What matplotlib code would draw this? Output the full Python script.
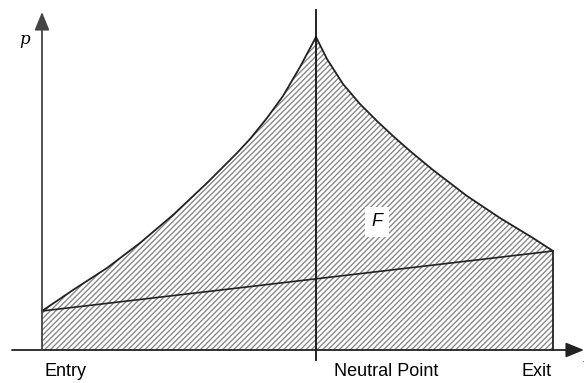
import numpy as np
from matplotlib import pyplot as plt

# friction hill: x = distance from entry, p = pressure (px units)
x_entry_side = [0, 31, 65, 98, 131, 165, 195, 208, 225, 241, 258, 274]
p_entry_side = [39, 60, 82, 107, 135, 167, 197, 211, 232, 254, 283, 313]
x_exit_side = [274, 285, 301, 318, 335, 351, 368, 391, 408, 425, 458, 491, 511]
p_exit_side = [313, 291, 266, 246, 229, 214, 199, 180, 167, 154, 132, 112, 99]

# straight line between entry and exit pressure
x_line = [0, 511]
p_line = [39, 99]

x_neutral = 274
x_exit = 511

labels = ['Entry', 'Neutral Point', 'Exit']
label_x = [23, 344, 495]

plt.rcParams['font.family'] = ['Liberation Sans', 'DejaVu Sans']
plt.rcParams['hatch.linewidth'] = 1.0

fig = plt.figure(figsize=(5.84, 3.83), dpi=100)
ax = fig.add_axes([0, 0, 1, 1])
ax.set_xlim(-42, 542)
ax.set_ylim(-33, 350)
ax.axis('off')

x_all = x_entry_side + x_exit_side[1:]
p_all = p_entry_side + p_exit_side[1:]

# hatched area under the curve
ax.fill_between(x_all, 0, p_all, facecolor='white', edgecolor='#8a8a8a',
                hatch='//////', linewidth=0)

ax.plot(x_entry_side, p_entry_side, color='#222222', lw=1.3)
ax.plot(x_exit_side, p_exit_side, color='#222222', lw=1.3)
ax.plot(x_line, p_line, color='#222222', lw=1.2)
ax.plot([x_exit, x_exit], [0, p_exit_side[-1]], color='#222222', lw=1.3)
ax.plot([x_neutral, x_neutral], [-10, 340], color='#111111', lw=1.3)

# axes with arrows
ax.annotate('', xy=(542, 0), xytext=(-30, 0),
            arrowprops=dict(arrowstyle='-|>,head_length=1.1,head_width=0.45',
                            color='#222222', lw=1.3, shrinkA=0, shrinkB=0))
ax.annotate('', xy=(0, 338), xytext=(0, 0),
            arrowprops=dict(arrowstyle='-|>,head_length=1.1,head_width=0.45',
                            color='#444444', lw=1.3, shrinkA=0, shrinkB=0))

ax.text(-17, 310, 'p', fontsize=12, family='DejaVu Serif', style='italic',
        ha='center', va='center')
ax.text(541, -7, 'x', fontsize=12, family='DejaVu Serif', style='italic',
        ha='left', va='center', clip_on=False)

ax.text(335, 128, 'F', fontsize=13, style='italic', ha='center', va='center',
        bbox=dict(facecolor='white', edgecolor='none', pad=5))

for lab, lx in zip(labels, label_x):
    ax.text(lx, -22, lab, fontsize=13, ha='center', va='center')

fig.savefig('out.png', dpi=100)
